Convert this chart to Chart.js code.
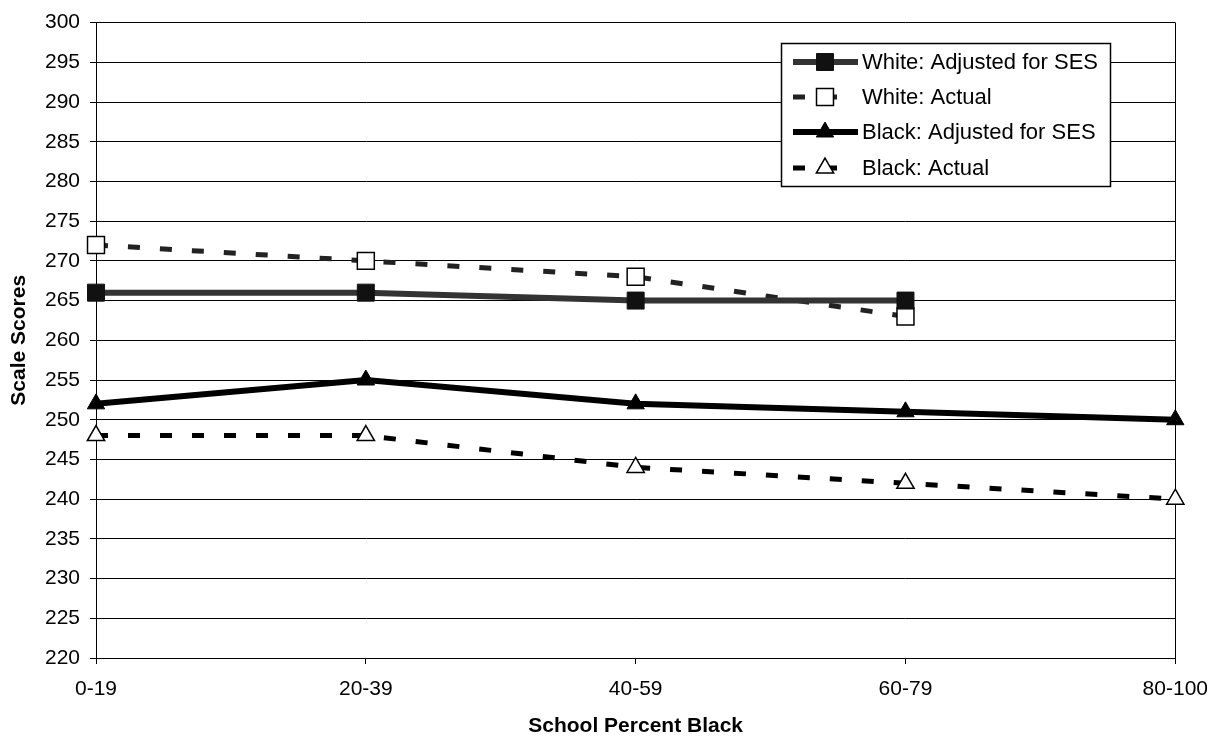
<!DOCTYPE html>
<html>
<head>
<meta charset="utf-8">
<title>Scale Scores by School Percent Black</title>
<script src="https://cdn.jsdelivr.net/npm/chart.js@4.4.1/dist/chart.umd.min.js"></script>
<style>
  html, body { margin: 0; padding: 0; background: #fff; }
  #wrap { width: 1221px; height: 739px; }
</style>
</head>
<body>
<div id="wrap"><canvas id="chart" width="1221" height="739"></canvas></div>
<script>
// datos
const categories = ['0-19', '20-39', '40-59', '60-79', '80-100'];
const whiteAdjusted = [266, 266, 265, 265, null];
const whiteActual = [272, 270, 268, 263, null];
const blackAdjusted = [252, 255, 252, 251, 250];
const blackActual = [248, 248, 244, 242, 240];
const yMin = 220;
const yMax = 300;
const yStep = 5;

const FONT = '"Liberation Sans", Arial, sans-serif';

// marcador simple (cuadrado / triangulo) para la leyenda
function drawMarker(ctx, style, x, y, r, fill, stroke, lw) {
  ctx.save();
  ctx.beginPath();
  if (style === 'rect') {
    const s = Math.SQRT1_2 * r;
    ctx.rect(x - s, y - s, 2 * s, 2 * s);
  } else {
    const h = r * 1.5;
    const w = r * Math.sqrt(3) / 2;
    ctx.moveTo(x, y - r);
    ctx.lineTo(x + w, y + r / 2);
    ctx.lineTo(x - w, y + r / 2);
    ctx.closePath();
  }
  ctx.fillStyle = fill;
  ctx.fill();
  ctx.lineWidth = lw;
  ctx.strokeStyle = stroke;
  ctx.stroke();
  ctx.restore();
}

// leyenda dentro del area del grafico + borde derecho
const boxLegend = {
  id: 'boxLegend',
  beforeDatasetsDraw(chart) {
    const { ctx, chartArea } = chart;
    ctx.save();
    ctx.strokeStyle = '#000';
    ctx.lineWidth = 1;
    ctx.beginPath();
    ctx.moveTo(Math.round(chartArea.right) + 0.5, chartArea.top);
    ctx.lineTo(Math.round(chartArea.right) + 0.5, chartArea.bottom);
    ctx.stroke();
    ctx.restore();
  },
  afterDraw(chart) {
    const { ctx } = chart;
    const x0 = 781, y0 = 43, w = 329, h = 143;
    ctx.save();
    ctx.fillStyle = '#fff';
    ctx.fillRect(x0, y0, w, h);
    ctx.strokeStyle = '#000';
    ctx.lineWidth = 1.5;
    ctx.strokeRect(x0 + 0.5, y0 + 0.5, w, h);
    const rows = [62, 97, 132, 168];
    chart.data.datasets.forEach((ds, i) => {
      const y = rows[i];
      ctx.save();
      ctx.strokeStyle = ds.borderColor;
      ctx.lineWidth = ds.borderWidth;
      ctx.setLineDash(ds.borderDash || []);
      ctx.beginPath();
      ctx.moveTo(793, y);
      ctx.lineTo(ds.borderDash ? 845 : 858, y);
      ctx.stroke();
      ctx.restore();
      drawMarker(ctx, ds.pointStyle, 825, y, ds.pointRadius,
        ds.pointBackgroundColor, ds.pointBorderColor, ds.pointBorderWidth);
      ctx.fillStyle = '#000';
      ctx.font = '22px ' + FONT;
      ctx.textBaseline = 'middle';
      ctx.textAlign = 'left';
      ctx.fillText(ds.label, 862, y + 1);
    });
    ctx.restore();
  }
};

new Chart(document.getElementById('chart'), {
  type: 'line',
  data: {
    labels: categories,
    datasets: [
      {
        label: 'White: Adjusted for SES',
        data: whiteAdjusted,
        borderColor: '#333',
        borderWidth: 6,
        pointStyle: 'rect',
        pointRadius: 12,
        pointBackgroundColor: '#111',
        pointBorderColor: '#111',
        pointBorderWidth: 1
      },
      {
        label: 'White: Actual',
        data: whiteActual,
        borderColor: '#222',
        borderWidth: 5,
        borderDash: [12, 20],
        pointStyle: 'rect',
        pointRadius: 12,
        pointBackgroundColor: '#fff',
        pointBorderColor: '#000',
        pointBorderWidth: 1.5
      },
      {
        label: 'Black: Adjusted for SES',
        data: blackAdjusted,
        borderColor: '#000',
        borderWidth: 6,
        pointStyle: 'triangle',
        pointRadius: 10,
        pointBackgroundColor: '#000',
        pointBorderColor: '#000',
        pointBorderWidth: 1
      },
      {
        label: 'Black: Actual',
        data: blackActual,
        borderColor: '#000',
        borderWidth: 5,
        borderDash: [12, 20],
        pointStyle: 'triangle',
        pointRadius: 10,
        pointBackgroundColor: '#fff',
        pointBorderColor: '#000',
        pointBorderWidth: 1.5
      }
    ]
  },
  options: {
    responsive: false,
    devicePixelRatio: 1,
    animation: false,
    layout: { padding: { top: 20, right: 43, left: 0, bottom: 0 } },
    plugins: {
      legend: { display: false },
      tooltip: { enabled: false }
    },
    elements: { line: { tension: 0 } },
    scales: {
      x: {
        offset: false,
        afterFit(scale) { scale.height = 81; },
        grid: { drawOnChartArea: false, color: '#000', tickLength: 6, lineWidth: 1 },
        border: { display: true, color: '#000', width: 1 },
        ticks: { color: '#000', font: { family: FONT, size: 21 }, padding: 13, maxRotation: 0 },
        title: {
          display: true,
          text: 'School Percent Black',
          color: '#000',
          font: { family: FONT, size: 21, weight: 'bold' },
          padding: { top: 0, bottom: 0 }
        }
      },
      y: {
        min: yMin,
        max: yMax,
        afterFit(scale) { scale.width = 96; },
        grid: { color: '#000', lineWidth: 1, tickLength: 6 },
        border: { display: true, color: '#000', width: 1 },
        ticks: { stepSize: yStep, color: '#000', font: { family: FONT, size: 21 }, padding: 10 },
        title: {
          display: true,
          text: 'Scale Scores',
          color: '#000',
          font: { family: FONT, size: 21, weight: 'bold' },
          padding: { top: 7, bottom: 0 }
        }
      }
    }
  },
  plugins: [boxLegend]
});
</script>
</body>
</html>
